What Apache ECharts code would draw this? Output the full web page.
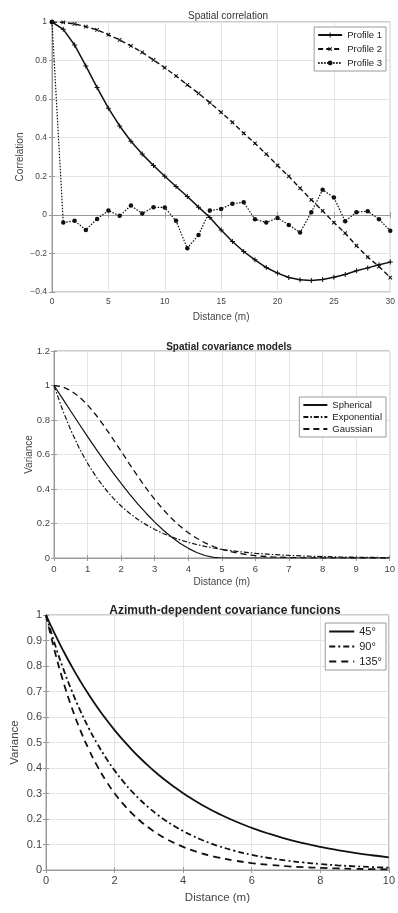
<!DOCTYPE html>
<html>
<head>
<meta charset="utf-8">
<script src="https://cdn.jsdelivr.net/npm/echarts@6/dist/echarts.min.js"></script>
<style>
  html, body { margin: 0; padding: 0; background: #fff; }
  #main { width: 398px; height: 913px; }
</style>
</head>
<body>
<div id="main"></div>
<script>
// panel 1 - spatial correlation of the three profiles
const lagDist = [0, 1, 2, 3, 4, 5, 6, 7, 8, 9, 10, 11, 12, 13, 14, 15, 16, 17, 18, 19, 20, 21, 22, 23, 24, 25, 26, 27, 28, 29, 30]
const profile1 = [1, 0.962, 0.881, 0.772, 0.66, 0.553, 0.461, 0.382, 0.315, 0.256, 0.2, 0.147, 0.095, 0.04, -0.014, -0.078, -0.138, -0.19, -0.233, -0.273, -0.302, -0.325, -0.337, -0.34, -0.335, -0.323, -0.309, -0.29, -0.275, -0.259, -0.245]
const profile2 = [1, 0.998, 0.99, 0.976, 0.959, 0.934, 0.907, 0.876, 0.843, 0.803, 0.763, 0.72, 0.674, 0.63, 0.582, 0.532, 0.48, 0.423, 0.371, 0.315, 0.256, 0.2, 0.138, 0.078, 0.021, -0.04, -0.095, -0.16, -0.219, -0.268, -0.325]
const profile3 = [1, -0.04, -0.031, -0.078, -0.021, 0.022, -0.005, 0.048, 0.007, 0.04, 0.038, -0.031, -0.173, -0.104, 0.022, 0.031, 0.058, 0.065, -0.023, -0.039, -0.016, -0.052, -0.092, 0.014, 0.13, 0.09, -0.033, 0.014, 0.019, -0.023, -0.082]

// panel 2 - covariance models
const modelDist = [0, 0.25, 0.5, 0.75, 1, 1.25, 1.5, 1.75, 2, 2.25, 2.5, 2.75, 3, 3.25, 3.5, 3.75, 4, 4.25, 4.5, 4.75, 5, 5.5, 6, 6.5, 7, 7.5, 8, 8.5, 9, 9.5, 10]
const spherical = [1, 0.925, 0.8505, 0.7767, 0.704, 0.6328, 0.5635, 0.4964, 0.432, 0.3706, 0.3125, 0.2582, 0.208, 0.1623, 0.1215, 0.0859, 0.056, 0.0321, 0.0145, 0.0037, 0, 0, 0, 0, 0, 0, 0, 0, 0, 0, 0]
const exponential = [1, 0.8607, 0.7408, 0.6376, 0.5488, 0.4724, 0.4066, 0.3499, 0.3012, 0.2592, 0.2231, 0.192, 0.1653, 0.1423, 0.1225, 0.1054, 0.0907, 0.0781, 0.0672, 0.0578, 0.0498, 0.0369, 0.0273, 0.0202, 0.015, 0.0111, 0.0082, 0.0061, 0.0045, 0.0033, 0.0025]
const gaussian = [1, 0.9925, 0.9704, 0.9347, 0.8869, 0.829, 0.7634, 0.6925, 0.6188, 0.5447, 0.4724, 0.4035, 0.3396, 0.2815, 0.2299, 0.185, 0.1466, 0.1145, 0.088, 0.0667, 0.0498, 0.0265, 0.0133, 0.0063, 0.0028, 0.0012, 0.0005, 0.0002, 0.0001, 0, 0]

// panel 3 - azimuth dependent covariance
const azDist = [0, 0.25, 0.5, 0.75, 1, 1.25, 1.5, 1.75, 2, 2.25, 2.5, 2.75, 3, 3.25, 3.5, 3.75, 4, 4.25, 4.5, 4.75, 5, 5.5, 6, 6.5, 7, 7.5, 8, 8.5, 9, 9.5, 10]
const az45 = [1, 0.9277, 0.8607, 0.7985, 0.7408, 0.6873, 0.6376, 0.5916, 0.5488, 0.5092, 0.4724, 0.4382, 0.4066, 0.3772, 0.3499, 0.3247, 0.3012, 0.2794, 0.2592, 0.2405, 0.2231, 0.192, 0.1653, 0.1423, 0.1225, 0.1054, 0.0907, 0.0781, 0.0672, 0.0578, 0.0498]
const az90 = [1, 0.8891, 0.7906, 0.7029, 0.625, 0.5557, 0.4941, 0.4393, 0.3906, 0.3473, 0.3088, 0.2746, 0.2441, 0.2171, 0.193, 0.1716, 0.1526, 0.1357, 0.1206, 0.1073, 0.0954, 0.0754, 0.0596, 0.0471, 0.0373, 0.0295, 0.0233, 0.0184, 0.0146, 0.0115, 0.0091]
const az135 = [1, 0.8607, 0.7408, 0.6376, 0.5488, 0.4724, 0.4066, 0.3499, 0.3012, 0.2592, 0.2231, 0.192, 0.1653, 0.1423, 0.1225, 0.1054, 0.0907, 0.0781, 0.0672, 0.0578, 0.0498, 0.0369, 0.0273, 0.0202, 0.015, 0.0111, 0.0082, 0.0061, 0.0045, 0.0033, 0.0025]

const FONT = "'Liberation Sans', Arial, sans-serif"
const BOX = '#9a9a9a'
const GRIDLINE = '#e4e4e4'
const TXT = '#444'
const PLUS = 'path://M4,0H6V4H10V6H6V10H4V6H0V4H4Z'

const pairs = (xs, ys) => xs.map((x, i) => [x, ys[i]])
const fmt = v => String(+v.toFixed(2)).replace('-', '\u2212')

// layout of the three panels
const panels = [
  { left: 52, top: 22, height: 270, xmax: 30, xint: 5, ymin: -0.4, ymax: 1, yint: 0.2, tick: 8.5, xm: 5, ym: 5, lab: 10, xgap: 20, ygap: 27, yname: 'Correlation' },
  { left: 54, top: 351, height: 207, xmax: 10, xint: 1, ymin: 0, ymax: 1.2, yint: 0.2, tick: 9.5, xm: 6, ym: 4, lab: 10, xgap: 19, ygap: 20, yname: 'Variance' },
  { left: 46, top: 615, height: 255, xmax: 10, xint: 2, ymin: 0, ymax: 1, yint: 0.1, tick: 11, xm: 5, ym: 4, lab: 11.5, xgap: 22, ygap: 25, yname: 'Variance' }
]

const grid = panels.map(p => ({
  left: p.left, top: p.top, right: 4, height: p.height,
  show: true, borderColor: BOX, borderWidth: 1, backgroundColor: '#fff'
}))

const xAxis = []
const yAxis = []
panels.forEach((p, i) => {
  xAxis.push({
    type: 'value', gridIndex: i, min: 0, max: p.xmax, interval: p.xint,
    name: 'Distance (m)', nameLocation: 'middle', nameGap: p.xgap, nameMoveOverlap: false,
    nameTextStyle: { fontSize: p.lab, color: TXT, fontFamily: FONT },
    axisLine: { lineStyle: { color: BOX } },
    axisTick: { inside: true, length: 3, lineStyle: { color: BOX } },
    axisLabel: { fontSize: p.tick, color: TXT, margin: p.xm, fontFamily: FONT, formatter: fmt },
    splitLine: { show: true, lineStyle: { color: GRIDLINE } }
  })
  yAxis.push({
    type: 'value', gridIndex: i, min: p.ymin, max: p.ymax, interval: p.yint,
    name: p.yname, nameLocation: 'middle', nameGap: p.ygap, nameMoveOverlap: false,
    nameTextStyle: { fontSize: p.lab, color: TXT, fontFamily: FONT },
    axisLine: { lineStyle: { color: BOX } },
    axisTick: { inside: true, length: 3, lineStyle: { color: BOX } },
    axisLabel: { fontSize: p.tick, color: TXT, margin: p.ym, fontFamily: FONT, formatter: fmt },
    splitLine: { show: true, lineStyle: { color: GRIDLINE } }
  })
})
// ticks on the top and right edges of each box
panels.forEach((p, i) => {
  xAxis.push({
    type: 'value', gridIndex: i, position: 'top', min: 0, max: p.xmax, interval: p.xint,
    axisLine: { show: false }, axisLabel: { show: false }, splitLine: { show: false },
    axisTick: { inside: true, length: 3, lineStyle: { color: BOX } }
  })
  yAxis.push({
    type: 'value', gridIndex: i, position: 'right', min: p.ymin, max: p.ymax, interval: p.yint,
    axisLine: { show: false }, axisLabel: { show: false }, splitLine: { show: false },
    axisTick: { inside: true, length: 3, lineStyle: { color: BOX } }
  })
})

const line = (name, idx, xs, ys, width, type, extra) => Object.assign({
  name, type: 'line', xAxisIndex: idx, yAxisIndex: idx,
  data: pairs(xs, ys), showSymbol: false, symbol: 'none',
  lineStyle: { color: '#111', width, type },
  itemStyle: { color: '#111' }
}, extra || {})

const series = [
  line('Profile 1', 0, lagDist, profile1, 1.5, 'solid', { symbol: PLUS, showSymbol: true, symbolSize: 5 }),
  line('Profile 2', 0, lagDist, profile2, 1.4, [5, 3], { symbol: PLUS, symbolRotate: 45, showSymbol: true, symbolSize: 5 }),
  line('Profile 3', 0, lagDist, profile3, 1.2, [1.5, 1.5], { symbol: 'circle', showSymbol: true, symbolSize: 4.5 }),
  line('Spherical', 1, modelDist, spherical, 1.2, 'solid'),
  line('Exponential', 1, modelDist, exponential, 1.2, [5, 2, 1.5, 2]),
  line('Gaussian', 1, modelDist, gaussian, 1.3, [6, 4]),
  line('45°', 2, azDist, az45, 1.8, 'solid', { smooth: true }),
  line('90°', 2, azDist, az90, 1.8, [6, 3, 2, 3], { smooth: true }),
  line('135°', 2, azDist, az135, 1.8, [7, 5], { smooth: true })
]

const legendBase = (names, top, size, w, h, gap, hideMark) => {
  const lg = {
    data: names, orient: 'vertical', right: 12, top,
    itemWidth: w, itemHeight: h, itemGap: gap,
    padding: [3, 4, 3, 3], borderColor: BOX, borderWidth: 1, backgroundColor: '#fff',
    textStyle: { fontSize: size, color: '#222', fontFamily: FONT }
  }
  if (hideMark) lg.itemStyle = { color: 'transparent', borderColor: 'transparent', borderWidth: 0 }
  return lg
}

const option = {
  animation: false,
  backgroundColor: '#fff',
  title: [
    { text: 'Spatial correlation', left: 223, top: 6, textAlign: 'center',
      textStyle: { fontSize: 10, fontWeight: 'normal', color: '#333', fontFamily: FONT } },
    { text: 'Spatial covariance models', left: 224, top: 337, textAlign: 'center',
      textStyle: { fontSize: 10, fontWeight: 'bold', color: '#222', fontFamily: FONT } },
    { text: 'Azimuth-dependent covariance funcions', left: 220, top: 600, textAlign: 'center',
      textStyle: { fontSize: 12, fontWeight: 'bold', color: '#222', fontFamily: FONT } }
  ],
  legend: [
    legendBase(['Profile 1', 'Profile 2', 'Profile 3'], 27, 9.5, 24, 6, 4, false),
    legendBase(['Spherical', 'Exponential', 'Gaussian'], 397, 9.5, 24, 8, 2, true),
    legendBase(['45°', '90°', '135°'], 623, 11, 25, 8, 4, true)
  ],
  grid, xAxis, yAxis, series
}

const chart = echarts.init(document.getElementById('main'), null, { renderer: 'canvas' })
chart.setOption(option)
</script>
</body>
</html>
